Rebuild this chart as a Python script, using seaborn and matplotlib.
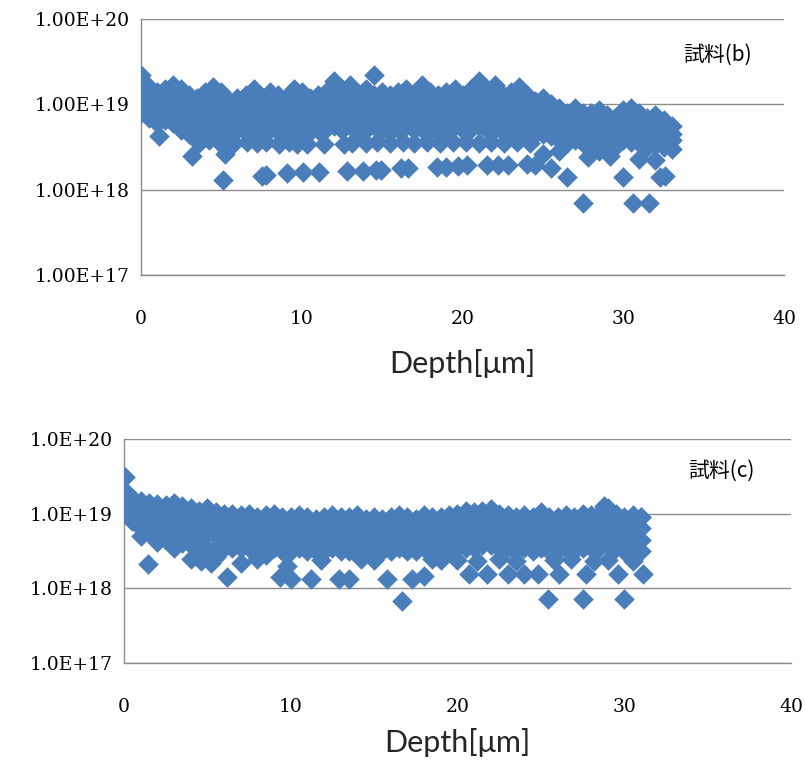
import numpy as np
import pandas as pd
import matplotlib
matplotlib.use("Agg")
import matplotlib.pyplot as plt
import seaborn as sns
from matplotlib.ticker import FixedLocator, FixedFormatter, NullLocator

# ---------------- data (concentration values in units of 1e18) ----------------
UNIT = 1e18

depth_b = [0, 0.5, 1, 1.5, 2, 2.5, 3, 3.5, 4, 4.5, 5, 5.5, 6, 6.5, 7, 7.5, 8, 8.5, 9, 9.5,
           10, 10.5, 11, 11.5, 12, 12.5, 13, 13.5, 14, 14.5, 15, 15.5, 16, 16.5, 17, 17.5,
           18, 18.5, 19, 19.5, 20, 20.5, 21, 21.5, 22, 22.5, 23, 23.5, 24, 24.5, 25, 25.5,
           26, 26.5, 27, 27.5, 28, 28.5, 29, 29.5, 30, 30.5, 31, 31.5, 32, 32.5, 33]
b_s1 = [22, 16, 14, 15, 17, 15, 13, 12, 14, 16, 14, 11, 12, 13, 15, 12, 14, 13, 12, 15,
        14, 12, 13, 14, 19, 15, 17, 13, 15, 22, 14, 13, 14, 15, 13, 17,
        14, 13, 14, 15, 13, 15, 19, 14, 17, 13, 14, 16, 13, 11, 12, 10,
        9, 8, 9, 8, 8, 8.5, 7.5, 7, 8.5, 9, 8, 7, 7.5, 6.5, 5.5]
b_s2 = [12, 11, 10, 11, 12, 10, 9, 8.5, 10, 11, 9.5, 8, 8.5, 9, 10, 8.5, 9.5, 9, 8.5, 10,
        9.5, 8.5, 9, 10, 12, 10, 11, 9, 10, 13, 10, 9, 10, 10.5, 9, 11,
        10, 9, 10, 10.5, 9.5, 10.5, 12, 10, 11, 9, 10, 11, 9, 8, 8.5, 7.5,
        6.5, 6, 6.5, 6, 6, 6.5, 5.5, 5.5, 6.5, 6.5, 6, 5.5, 5.5, 5, 4.5]
b_s3 = [10, 8.5, 7.5, 8, 8.5, 7, 6.5, 6, 7, 7.5, 6.5, 6, 6.5, 6.5, 7, 6.5, 7, 6.5, 6, 7,
        7, 6.5, 6.5, 7, 8, 7, 7.5, 6.5, 7, 8.5, 7, 6.5, 7, 7.5, 6.5, 7.5,
        7, 6.5, 7, 7.5, 7, 7.5, 8, 7, 7.5, 6.5, 7, 7.5, 6.5, 6, 6, 5.5,
        5, 4.5, 5, 4.5, 4.5, 5, 4.5, 4.2, 5, 5, 4.5, 4.2, 4.3, 4, 3.8]
b_s4 = [8, 7, 6, 6.5, 6, 5, 4.5, 4.5, 5, 5.5, 4.8, 4.5, 5, 4.8, 5, 4.8, 5.2, 4.8, 4.5, 5,
        5, 4.8, 5, 5.2, 5.5, 5, 5.5, 4.8, 5, 5.5, 5, 4.8, 5.2, 5.5, 5, 5.2,
        5, 4.8, 5.2, 5.5, 5, 5.2, 5.5, 5, 5.2, 4.8, 5, 5.2, 4.8, 4.5, 4.5, 4.2,
        3.8, 3.5, 3.8, 3.5, 3.5, 3.8, 3.5, 3.2, 3.8, 3.6, 3.5, 3.2, 3.3, 3.2, 3]
b_extra_x = [1.1, 3.2, 3.6, 4.2, 5.0, 5.2, 5.8, 6.6, 7.2, 7.8, 8.6, 9.2, 9.7, 10.3, 11.4,
             12.6, 13.1, 14.0, 14.7, 15.5, 16.3, 17.0, 17.8, 18.6, 19.4, 20.2, 21.0, 21.8,
             22.6, 23.4, 24.2,
             5.1, 7.5, 7.8, 9.1, 10.1, 11.1, 12.8, 13.8, 14.6, 14.9, 16.2, 16.6, 18.4, 19.0,
             19.7, 20.3, 21.5, 22.2, 22.8, 24.0, 24.5, 25.5, 26.5, 30.0, 32.3, 32.6, 27.5,
             30.6, 31.6, 25.0, 27.8, 29.2, 31.0, 32.0, 28.5, 26.0]
b_extra_v = [4.3, 2.5, 3.5, 3.8, 3.4, 2.6, 3.5, 3.6, 3.5, 3.6, 3.4, 3.6, 3.4, 3.4, 3.4,
             3.4, 3.5, 3.5, 3.6, 3.5, 3.6, 3.5, 3.6, 3.5, 3.6, 3.6, 3.5, 3.6,
             3.5, 3.6, 3.5,
             1.3, 1.45, 1.5, 1.55, 1.6, 1.6, 1.65, 1.65, 1.7, 1.7, 1.8, 1.8, 1.85, 1.85,
             1.9, 1.95, 1.95, 1.95, 1.95, 2.0, 1.95, 1.8, 1.4, 1.4, 1.4, 1.45, 0.7,
             0.7, 0.7, 2.6, 2.4, 2.5, 2.3, 2.2, 2.8, 2.8]

depth_c = [0, 0.5, 1, 1.5, 2, 2.5, 3, 3.5, 4, 4.5, 5, 5.5, 6, 6.5, 7, 7.5, 8, 8.5, 9, 9.5,
           10, 10.5, 11, 11.5, 12, 12.5, 13, 13.5, 14, 14.5, 15, 15.5, 16, 16.5, 17, 17.5,
           18, 18.5, 19, 19.5, 20, 20.5, 21, 21.5, 22, 22.5, 23, 23.5, 24, 24.5, 25, 25.5,
           26, 26.5, 27, 27.5, 28, 28.5, 29, 29.5, 30, 30.5, 31]
c_s1 = [20, 16, 15, 14, 13.5, 13, 14, 12.5, 12, 11, 12, 10.5, 10, 10, 9.5, 10, 9, 9.5, 10, 9,
        9, 9.5, 9, 8.5, 9, 9.5, 9, 9, 9.5, 8.5, 9, 8.5, 9, 9.5, 9, 8.5,
        9.5, 9, 9, 9.5, 10, 11, 10.5, 11, 11.5, 10, 9.5, 9, 9.5, 9, 10, 9,
        9, 9.5, 9, 10, 9.5, 10, 12, 10, 9, 9.5, 9]
c_s2 = [16, 13, 11, 10.5, 10, 9.5, 10, 9, 8.5, 8, 8.5, 7.5, 7, 7.5, 7, 7.5, 6.5, 7, 7.5, 6.5,
        6.5, 7, 6.5, 6.5, 6.5, 7, 6.5, 6.5, 7, 6.5, 6.5, 6.5, 6.5, 7, 6.5, 6.5,
        7, 6.5, 6.5, 7, 7, 7.5, 7.5, 8, 8, 7, 7, 6.5, 7, 6.5, 7, 6.5,
        6.5, 7, 6.5, 7, 7, 7, 8, 7, 6.5, 7, 6.5]
c_s3 = [13, 10, 8.5, 7.5, 7, 6.5, 6.5, 6, 5.5, 5, 5.5, 5, 5, 5, 5, 5, 4.5, 5, 5, 4.5,
        4.5, 5, 4.5, 4.5, 4.5, 5, 4.5, 4.5, 5, 4.5, 4.5, 4.5, 4.5, 5, 4.5, 4.5,
        5, 4.5, 4.5, 5, 5, 5, 5, 5.5, 5.5, 5, 5, 4.5, 5, 4.5, 5, 4.5,
        4.5, 5, 4.5, 5, 5, 5, 5.5, 5, 4.5, 5, 4.5]
c_s4 = [10, 8, 6.5, 5.5, 5, 4.5, 4.5, 4, 3.8, 3.5, 3.5, 3.5, 3.5, 3.5, 3.5, 3.5, 3.2, 3.5, 3.5, 3.2,
        3.2, 3.5, 3.2, 3.2, 3.2, 3.5, 3.2, 3.2, 3.5, 3.2, 3.2, 3.2, 3.2, 3.5, 3.2, 3.2,
        3.5, 3.2, 3.2, 3.5, 3.5, 3.5, 3.5, 3.8, 3.8, 3.5, 3.5, 3.2, 3.5, 3.2, 3.5, 3.2,
        3.2, 3.5, 3.2, 3.5, 3.5, 3.5, 3.8, 3.5, 3.2, 3.5, 3.2]
c_extra_x = [0.06, 0.0, 0.2, 1.45, 1.0, 2.0, 3.0, 4.0, 4.6, 5.2, 5.5, 6.2, 7.0, 8.0, 8.5,
             9.35, 9.8, 10.0, 11.2, 11.8, 12.9, 13.5, 14.2, 15.0, 15.8, 16.7, 17.3, 18.0,
             18.5, 19.0, 20.7, 21.8, 23.0, 24.0, 24.8, 25.4, 26.1, 27.7, 27.5, 29.6, 30.0,
             31.1, 20.0, 21.2, 22.5, 23.5, 25.8, 26.8, 28.2, 29.0, 30.5, 2.8, 5.0, 25.0,
             28.8, 31.0]
c_extra_v = [31, 17, 19, 2.1, 5, 4.2, 3.5, 2.5, 2.3, 2.2, 2.6, 1.43, 2.2, 2.5, 2.8,
             1.43, 2.0, 1.35, 1.35, 2.4, 1.35, 1.35, 2.5, 2.4, 1.35, 0.68, 1.35, 1.45,
             2.5, 2.4, 1.57, 1.57, 1.57, 1.57, 1.57, 0.73, 1.57, 1.57, 0.73, 1.57, 0.73,
             1.57, 2.4, 2.3, 2.5, 2.3, 2.4, 2.5, 2.3, 2.4, 2.3, 12.5, 11.5, 10.5,
             12.5, 9.0]

y_ticks = [1e17, 1e18, 1e19, 1e20]
y_labels_b = ["1.00E+17", "1.00E+18", "1.00E+19", "1.00E+20"]
y_labels_c = ["1.0E+17", "1.0E+18", "1.0E+19", "1.0E+20"]
x_ticks = [0, 10, 20, 30, 40]
x_label = "Depth[μm]"
tag_b = "試料(b)"
tag_c = "試料(c)"


def long_frame(depth, series, ex_x, ex_v):
    xs, vs = [], []
    for s in series:
        xs += list(depth)
        vs += list(s)
    xs += list(ex_x)
    vs += list(ex_v)
    return pd.DataFrame({"depth": xs, "conc": np.array(vs) * UNIT})


df_b = long_frame(depth_b, [b_s1, b_s2, b_s3, b_s4], b_extra_x, b_extra_v)
df_c = long_frame(depth_c, [c_s1, c_s2, c_s3, c_s4], c_extra_x, c_extra_v)

# ---------------- drawing ----------------
sns.set_theme(style="white")
plt.rcParams["font.family"] = ["DejaVu Serif"]

fig = plt.figure(figsize=(8.05, 7.62), dpi=100)
ax1 = fig.add_axes([0.1752, 0.6391, 0.7988, 0.3360])
ax2 = fig.add_axes([0.1540, 0.1299, 0.8286, 0.2940])

BLUE = "#4A7EBB"
GRAY = "#8C8C8C"

panels = [(ax1, df_b, y_labels_b, tag_b, 15), (ax2, df_c, y_labels_c, tag_c, 8.5)]
for ax, df, ylabels, tag, lpad in panels:
    sns.scatterplot(data=df, x="depth", y="conc", ax=ax, marker="D", s=110,
                    color=BLUE, edgecolor=BLUE, linewidth=0, zorder=3, legend=False)
    ax.set_yscale("log")
    ax.set_ylim(1e17, 1e20)
    ax.set_xlim(0, 40)
    ax.yaxis.set_major_locator(FixedLocator(y_ticks))
    ax.yaxis.set_major_formatter(FixedFormatter(ylabels))
    ax.yaxis.set_minor_locator(NullLocator())
    ax.set_xticks(x_ticks)
    ax.set_xticklabels([str(t) for t in x_ticks])
    ax.grid(axis="y", color=GRAY, linewidth=1.0, zorder=0)
    ax.grid(axis="x", visible=False)
    for side in ["top", "right"]:
        ax.spines[side].set_visible(False)
    for side in ["left", "bottom"]:
        ax.spines[side].set_color(GRAY)
        ax.spines[side].set_linewidth(1.0)
    ax.tick_params(axis="both", which="major", direction="out", color=GRAY,
                   length=6, width=1.0, labelsize=13.5, labelcolor="black")
    ax.tick_params(axis="x", pad=19.5)
    ax.tick_params(axis="y", pad=2)
    ax.set_ylabel("")
    ax.set_xlabel(x_label, fontsize=22, family=["Lato", "DejaVu Sans"], labelpad=lpad)
    ax.text(0.896, 0.86, tag, transform=ax.transAxes, ha="center", va="center",
            fontsize=15, family=["Noto Sans CJK JP", "DejaVu Sans"], color="black")

fig.savefig("out.png", dpi=100)
